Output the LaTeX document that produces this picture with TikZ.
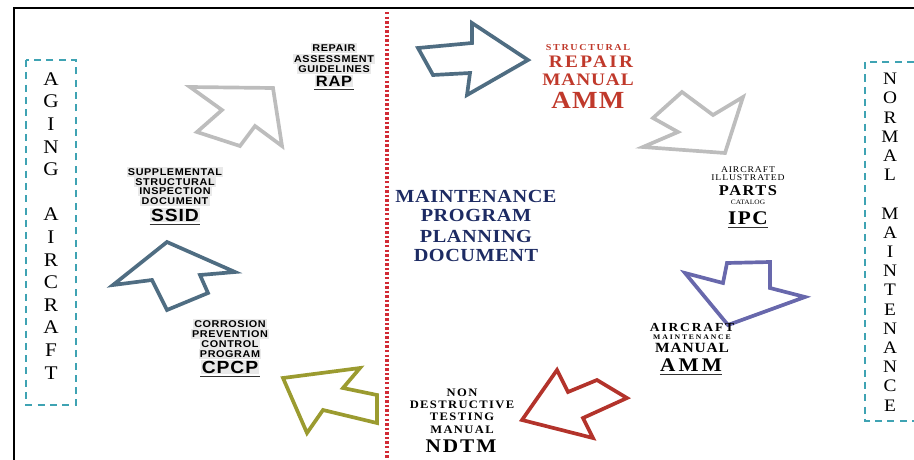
\documentclass[tikz,border=0pt]{standalone}
\usepackage{fontspec}
\usepackage{tikz}
\newfontfamily\sanslbl[FakeStretch=1.1]{Liberation Sans}
\newfontfamily\seriflbl[FakeStretch=1.1]{Liberation Serif}
\definecolor{arrslate}{HTML}{4F6D82}
\definecolor{arrgray}{HTML}{BDBDBD}
\definecolor{arrpurple}{HTML}{6868AC}
\definecolor{arrred}{HTML}{B3332B}
\definecolor{arrolive}{HTML}{9B9B30}
\definecolor{boxteal}{HTML}{3FA3B3}
\definecolor{titlenavy}{HTML}{1D2B63}
\definecolor{srmred}{HTML}{C0392B}
\definecolor{divred}{HTML}{D22B35}
\definecolor{hlgray}{HTML}{E9E9E9}
\tikzset{
    sansln/.style 2 args={
           font=\sanslbl\bfseries\fontsize{#1}{#1}\selectfont\addfontfeature{LetterSpace=#2},
           fill=hlgray,
           inner sep=0.7pt
           },
    serifln/.style 2 args={
           font=\seriflbl\bfseries\fontsize{#1}{#1}\selectfont\addfontfeature{LetterSpace=#2},
           inner sep=0pt
           },
    serifreg/.style 2 args={
           font=\seriflbl\fontsize{#1}{#1}\selectfont\addfontfeature{LetterSpace=#2},
           inner sep=0pt
           },
    blockarrow/.style={
           line width=2.1pt,
           line join=miter
           },
    sidebox/.style={
           draw=boxteal,
           line width=0.8pt,
           dash pattern=on 4pt off 3pt
           },
    uline/.style={
           line width=0.6pt,
           black!80
           }
}

\begin{document}
\begin{tikzpicture}[x=0.02cm, y=-0.02cm]
\useasboundingbox (0,0) rectangle (914,460);
% frame and divider
\draw[line width=1.1pt] (14,460) -- (14,8) -- (914,8);
\draw[divred, line width=2pt, dash pattern=on 1.4pt off 1.2pt] (387,12) -- (387,460);

% side boxes
\draw[sidebox] (26,60) rectangle (76,405);
\draw[sidebox] (914,62) -- (865,62) -- (865,421) -- (914,421);
\foreach \ch [count=\i] in {A,G,I,N,G,{},A,I,R,C,R,A,F,T}
   \node[font=\seriflbl\fontsize{11}{11}\selectfont, inner sep=0pt] (ag\i) at (51,{79+(\i-1)*22.6}) {\ch};
\foreach \ch [count=\i] in {N,O,R,M,A,L,{},M,A,I,N,T,E,N,A,N,C,E}
   \node[font=\seriflbl\fontsize{10}{10}\selectfont, inner sep=0pt] (nm\i) at (890,{79+(\i-1)*19.2}) {\ch};

% block arrows
\draw[blockarrow, arrslate] (418,48) -- (472,43) -- (472,23) -- (528,60) -- (467,95) -- (470,73) -- (433,75) -- cycle;
\draw[blockarrow, arrgray] (682,92) -- (713,115) -- (743,97) -- (725,153) -- (643,147) -- (678,132) -- (653,118) -- cycle;
\draw[blockarrow, arrpurple] (727,263) -- (770,262) -- (770,288) -- (805,297) -- (728,325) -- (685,273) -- (723,283) -- cycle;
\draw[blockarrow, arrred] (522,420) -- (557,370) -- (568,392) -- (597,380) -- (627,398) -- (583,418) -- (593,438) -- cycle;
\draw[blockarrow, arrolive] (283,378) -- (360,368) -- (343,388) -- (377,395) -- (377,423) -- (323,410) -- (307,433) -- cycle;
\draw[blockarrow, arrslate] (113,285) -- (167,242) -- (235,272) -- (200,275) -- (208,293) -- (167,310) -- (152,280) -- cycle;
\draw[blockarrow, arrgray] (190,87) -- (273,88) -- (282,146) -- (255,126) -- (240,146) -- (197,132) -- (222,110) -- cycle;

% centre title
\node[serifln={10.5}{3}, text=titlenavy] (ta) at (476,196) {MAINTENANCE};
\node[serifln={10.5}{3}, text=titlenavy] (tb) at (476,215) {PROGRAM};
\node[serifln={10.5}{3}, text=titlenavy] (tc) at (476,236) {PLANNING};
\node[serifln={10.5}{3}, text=titlenavy] (td) at (476,255) {DOCUMENT};

% RAP
\node[sansln={5.6}{6}] (rapa) at (334,48) {REPAIR};
\node[sansln={5.6}{6}] (rapb) at (334,59) {ASSESSMENT};
\node[sansln={5.6}{6}] (rapc) at (334,69) {GUIDELINES};
\node[sansln={8.5}{5}] (rap) at (334,81) {RAP};
\draw[uline] ([yshift=-1pt]rap.south west) -- ([yshift=-1pt]rap.south east);

% SSID
\node[sansln={5.6}{6}] (ssida) at (175,172) {SUPPLEMENTAL};
\node[sansln={5.6}{6}] (ssidb) at (175,182) {STRUCTURAL};
\node[sansln={5.6}{6}] (ssidc) at (175,191) {INSPECTION};
\node[sansln={5.6}{6}] (ssidd) at (175,201) {DOCUMENT};
\node[sansln={10}{5}] (ssid) at (175,215) {SSID};
\draw[uline] ([yshift=-1pt]ssid.south west) -- ([yshift=-1pt]ssid.south east);

% CPCP
\node[sansln={5.6}{6}] (cpcpa) at (230,324) {CORROSION};
\node[sansln={5.6}{6}] (cpcpb) at (230,334) {PREVENTION};
\node[sansln={5.6}{6}] (cpcpc) at (230,344) {CONTROL};
\node[sansln={5.6}{6}] (cpcpd) at (230,354) {PROGRAM};
\node[sansln={10}{5}] (cpcp) at (230,367) {CPCP};
\draw[uline] ([yshift=-1pt]cpcp.south west) -- ([yshift=-1pt]cpcp.south east);

% NDTM
\node[serifln={6.5}{12}] (ndtma) at (462,393) {NON};
\node[serifln={6.5}{12}] (ndtmb) at (462,405) {DESTRUCTIVE};
\node[serifln={6.5}{12}] (ndtmc) at (462,417) {TESTING};
\node[serifln={6.5}{12}] (ndtmd) at (462,430) {MANUAL};
\node[serifln={11}{10}] (ndtm) at (461,446) {NDTM};

% aircraft maintenance manual
\node[serifln={7}{15}] (amma) at (692,327) {AIRCRAFT};
\node[serifln={4}{26}] (ammb) at (692,337) {MAINTENANCE};
\node[serifln={8}{6}] (ammc) at (692,348) {MANUAL};
\node[serifln={11}{16}] (amm) at (691,365) {AMM};
\draw[uline] ([yshift=-1.5pt]amm.south west) -- ([yshift=-1.5pt]amm.south east);

% IPC
\node[serifreg={5}{10}] (ipca) at (748,170) {AIRCRAFT};
\node[serifreg={5}{10}] (ipcb) at (748,178) {ILLUSTRATED};
\node[serifln={8.5}{10}] (ipcc) at (748,191) {PARTS};
\node[serifreg={3.8}{2}] (ipcd) at (748,202) {CATALOG};
\node[serifln={11}{8}] (ipc) at (748,218) {IPC};
\draw[uline] ([yshift=-1.5pt]ipc.south west) -- ([yshift=-1.5pt]ipc.south east);

% structural repair manual
\node[serifln={5.2}{18}, text=srmred] (srma) at (588,48) {STRUCTURAL};
\node[serifln={10}{13}, text=srmred] (srmb) at (591,62) {REPAIR};
\node[serifln={10}{5}, text=srmred] (srmc) at (588,80) {MANUAL};
\node[serifln={14}{5}, text=srmred] (srm) at (588,100) {AMM};
\end{tikzpicture}
\end{document}
